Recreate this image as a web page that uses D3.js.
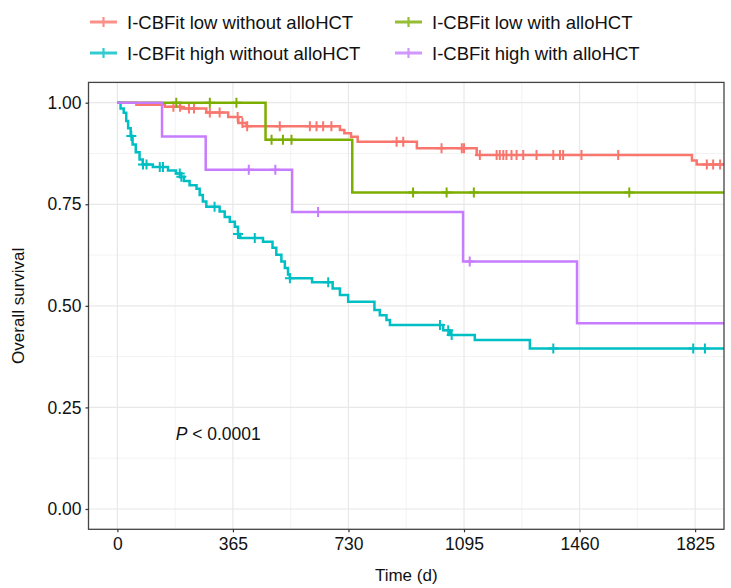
<!DOCTYPE html>
<html>
<head>
<meta charset="utf-8">
<script src="https://cdn.jsdelivr.net/npm/d3@7"></script>
<style>
  body { margin: 0; background: #fff; }
  text { font-family: "Liberation Sans", Arial, sans-serif; fill: #111; }
</style>
</head>
<body>
<svg id="chart" width="731" height="588"></svg>
<script>
// groups in legend order (row by row)
var groupNames = ['I-CBFit low without alloHCT', 'I-CBFit low with alloHCT',
                  'I-CBFit high without alloHCT', 'I-CBFit high with alloHCT'];
var groupColors = ['#F8766D', '#7CAE00', '#00BFC4', '#C77CFF'];

// I-CBFit low without alloHCT
var lowNoTimes = [0, 60, 150, 200, 281, 350, 382, 408, 703, 717, 738, 759, 946, 1135, 1815, 1830];
var lowNoSurv = [1, 0.995, 0.99, 0.986, 0.976, 0.965, 0.95, 0.942, 0.933, 0.925, 0.916, 0.904, 0.888, 0.871, 0.858, 0.848];
var lowNoCensor = [177, 198, 226, 242, 292, 323, 380, 395, 410, 513, 608, 629, 650, 676, 882, 903,
                   1024, 1088, 1095, 1145, 1198, 1208, 1219, 1229, 1245, 1261, 1282, 1324, 1377,
                   1398, 1408, 1466, 1582, 1862, 1882, 1904];

// I-CBFit low with alloHCT
var lowAlloTimes = [0, 468, 742];
var lowAlloSurv = [1, 0.909, 0.779];
var lowAlloCensor = [186, 292, 376, 487, 523, 550, 934, 1040, 1126, 1617];

// I-CBFit high without alloHCT
var highNoTimes = [0, 10, 20, 28, 34, 42, 48, 58, 70, 80, 112, 160, 185, 200, 210, 228, 250, 260, 270,
                   281, 323, 339, 355, 371, 381, 388, 460, 490, 502, 518, 529, 539, 545, 615, 680,
                   703, 729, 812, 829, 850, 861, 1029, 1050, 1129, 1303];
var highNoSurv = [1, 0.986, 0.975, 0.955, 0.937, 0.918, 0.897, 0.878, 0.86, 0.848, 0.842, 0.833, 0.826,
                  0.818, 0.807, 0.797, 0.788, 0.773, 0.757, 0.744, 0.732, 0.719, 0.707, 0.695, 0.677,
                  0.667, 0.658, 0.643, 0.626, 0.609, 0.593, 0.577, 0.568, 0.558, 0.543, 0.527, 0.51,
                  0.49, 0.477, 0.465, 0.453, 0.44, 0.428, 0.416, 0.395];
var highNoCensor = [44, 81, 92, 134, 144, 197, 202, 307, 381, 434, 545, 666, 1019, 1045, 1056, 1377, 1819, 1856];

// I-CBFit high with alloHCT
var highAlloTimes = [0, 141, 279, 552, 1092, 1452];
var highAlloSurv = [1, 0.917, 0.835, 0.731, 0.609, 0.457];
var highAlloCensor = [415, 499, 634, 1113];

var xTicks = [0, 365, 730, 1095, 1460, 1825];
var yTicks = [0, 0.25, 0.5, 0.75, 1];
var yTickLabels = ['0.00', '0.25', '0.50', '0.75', '1.00'];

var groups = [
  {name: groupNames[0], color: groupColors[0], times: lowNoTimes, surv: lowNoSurv, censor: lowNoCensor},
  {name: groupNames[1], color: groupColors[1], times: lowAlloTimes, surv: lowAlloSurv, censor: lowAlloCensor},
  {name: groupNames[2], color: groupColors[2], times: highNoTimes, surv: highNoSurv, censor: highNoCensor},
  {name: groupNames[3], color: groupColors[3], times: highAlloTimes, surv: highAlloSurv, censor: highAlloCensor}
];

var width = 731, height = 588;
var margin = {top: 82.4, right: 7, bottom: 58.7, left: 88.5};

var svg = d3.select('#chart');

// ggplot style 5% expansion around 0..1825
var x = d3.scaleLinear().domain([-91.25, 1916.25]).range([margin.left, width - margin.right]);
var y = d3.scaleLinear().domain([-0.05, 1.05]).range([height - margin.bottom, margin.top]);

svg.append('defs').append('clipPath').attr('id', 'clip')
  .append('rect')
  .attr('x', margin.left).attr('y', margin.top)
  .attr('width', width - margin.left - margin.right)
  .attr('height', height - margin.top - margin.bottom);

// grid
var grid = svg.append('g');
var xMinor = xTicks.map(function(d) { return d + 182.5; }).filter(function(d) { return d < x.domain()[1]; });
var yMinor = [0.125, 0.375, 0.625, 0.875];

grid.selectAll('.xminor').data(xMinor).enter().append('line')
  .attr('x1', x).attr('x2', x)
  .attr('y1', margin.top).attr('y2', height - margin.bottom)
  .attr('stroke', '#ebebeb').attr('stroke-width', 0.6);
grid.selectAll('.yminor').data(yMinor).enter().append('line')
  .attr('y1', y).attr('y2', y)
  .attr('x1', margin.left).attr('x2', width - margin.right)
  .attr('stroke', '#ebebeb').attr('stroke-width', 0.6);
grid.selectAll('.xmajor').data(xTicks).enter().append('line')
  .attr('x1', x).attr('x2', x)
  .attr('y1', margin.top).attr('y2', height - margin.bottom)
  .attr('stroke', '#e8e8e8').attr('stroke-width', 1.2);
grid.selectAll('.ymajor').data(yTicks).enter().append('line')
  .attr('y1', y).attr('y2', y)
  .attr('x1', margin.left).attr('x2', width - margin.right)
  .attr('stroke', '#e8e8e8').attr('stroke-width', 1.2);

// curves
var plot = svg.append('g').attr('clip-path', 'url(#clip)');

var line = d3.line()
  .x(function(d) { return x(d[0]); })
  .y(function(d) { return y(d[1]); })
  .curve(d3.curveStepAfter);

function survAt(g, t) {
  var i = d3.bisectRight(g.times, t) - 1;
  return g.surv[Math.max(i, 0)];
}

groups.forEach(function(g) {
  var pts = g.times.map(function(t, i) { return [t, g.surv[i]]; });
  pts.push([x.domain()[1], g.surv[g.surv.length - 1]]);

  plot.append('path')
    .datum(pts)
    .attr('d', line)
    .attr('fill', 'none')
    .attr('stroke', g.color)
    .attr('stroke-width', 2.5);

  plot.selectAll(null)
    .data(g.censor)
    .enter()
    .append('path')
    .attr('d', function(t) {
      var cx = x(t), cy = y(survAt(g, t));
      return 'M' + (cx - 5) + ',' + cy + 'H' + (cx + 5) + 'M' + cx + ',' + (cy - 5) + 'V' + (cy + 5);
    })
    .attr('stroke', g.color)
    .attr('stroke-width', 2)
    .attr('fill', 'none');
});

// panel border
svg.append('rect')
  .attr('x', margin.left).attr('y', margin.top)
  .attr('width', width - margin.left - margin.right)
  .attr('height', height - margin.top - margin.bottom)
  .attr('fill', 'none')
  .attr('stroke', '#444')
  .attr('stroke-width', 1.3);

// axes
var xAxis = svg.append('g')
  .attr('transform', 'translate(0,' + (height - margin.bottom) + ')')
  .call(d3.axisBottom(x).tickValues(xTicks).tickFormat(d3.format('d')).tickSize(3).tickPadding(5));
var yAxis = svg.append('g')
  .attr('transform', 'translate(' + margin.left + ',0)')
  .call(d3.axisLeft(y).tickValues(yTicks).tickFormat(function(d, i) { return yTickLabels[i]; })
    .tickSize(3).tickPadding(4));

[xAxis, yAxis].forEach(function(a) {
  a.select('.domain').remove();
  a.selectAll('.tick line').attr('stroke', '#333').attr('stroke-width', 1.2);
  a.selectAll('.tick text').style('font-size', '17.5px').style('font-family', '"Liberation Sans", Arial, sans-serif').attr('fill', '#111');
});

// axis titles
svg.append('text')
  .attr('x', (margin.left + width - margin.right) / 2)
  .attr('y', 581)
  .attr('text-anchor', 'middle')
  .style('font-size', '17px')
  .text('Time (d)');

svg.append('text')
  .attr('transform', 'translate(24,' + ((margin.top + height - margin.bottom) / 2) + ') rotate(-90)')
  .attr('text-anchor', 'middle')
  .style('font-size', '17px')
  .text('Overall survival');

// p-value
var pText = svg.append('text')
  .attr('x', x(184))
  .attr('y', y(0.185))
  .attr('dominant-baseline', 'central')
  .style('font-size', '17.5px');
pText.append('tspan').style('font-style', 'italic').text('P');
pText.append('tspan').text(' < 0.0001');

// legend, 2 columns by row
var legendX = [90, 395];
var legendY = [22, 53];
var legend = svg.append('g');
groups.forEach(function(g, i) {
  var lx = legendX[i % 2], ly = legendY[Math.floor(i / 2)];
  var item = legend.append('g').attr('opacity', 0.8);
  item.append('line')
    .attr('x1', lx).attr('x2', lx + 27)
    .attr('y1', ly).attr('y2', ly)
    .attr('stroke', g.color).attr('stroke-width', 3);
  item.append('path')
    .attr('d', 'M' + (lx + 13.5) + ',' + (ly - 5) + 'V' + (ly + 5))
    .attr('stroke', g.color).attr('stroke-width', 2.2);
  legend.append('text')
    .attr('x', lx + 37)
    .attr('y', ly)
    .attr('dominant-baseline', 'central')
    .style('font-size', '18.5px')
    .text(g.name);
});
</script>
</body>
</html>
